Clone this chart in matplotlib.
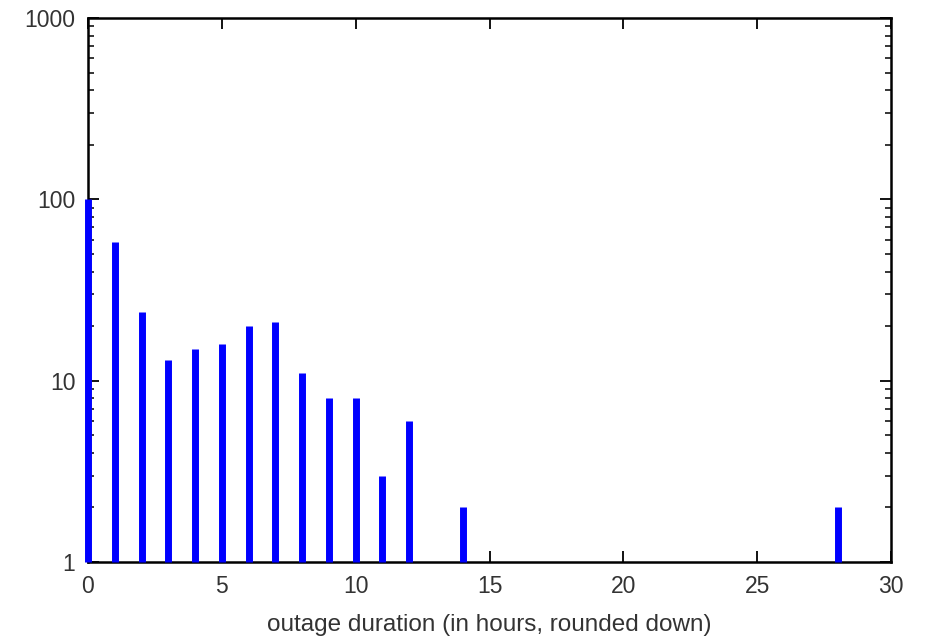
import numpy as np
import matplotlib
matplotlib.use("Agg")
import matplotlib.pyplot as plt
import matplotlib.ticker as mticker

plt.rcParams['font.family'] = ['Liberation Sans', 'DejaVu Sans']

# outage duration (hours, rounded down) and number of outages
hours = [0, 1, 2, 3, 4, 5, 6, 7, 8, 9, 10, 11, 12, 14, 28]
counts = [100, 58, 24, 13, 15, 16, 20, 21, 11, 8, 8, 3, 6, 2, 2]

fig = plt.figure(figsize=(9.27, 6.37), dpi=100)
ax = fig.add_axes([0.0949, 0.1177, 0.8665, 0.854])

ax.vlines(hours, 1, counts, colors='#0000ff', linewidth=5, zorder=3, clip_on=False)

ax.set_yscale('log')
ax.set_xlim(0, 30)
ax.set_ylim(1, 1000)
ax.xaxis.set_major_locator(mticker.MultipleLocator(5))
ax.yaxis.set_major_locator(mticker.LogLocator(base=10, numticks=10))
ax.yaxis.set_minor_locator(mticker.LogLocator(base=10, subs=np.arange(2, 10), numticks=10))
ax.yaxis.set_major_formatter(mticker.FuncFormatter(lambda v, p: f"{int(round(v))}"))
ax.yaxis.set_minor_formatter(mticker.NullFormatter())

ax.tick_params(which='both', direction='in', top=True, right=True, color='black', labelcolor='#333333', labelsize=16.5)
ax.tick_params(which='major', length=8, width=1.3, pad=9)
ax.tick_params(which='minor', length=4, width=1.1)
for s in ax.spines.values():
    s.set_linewidth(1.8)

ax.set_xlabel('outage duration (in hours, rounded down)', fontsize=17.5, color='#333333', labelpad=12)

fig.savefig('out.png', dpi=100)
